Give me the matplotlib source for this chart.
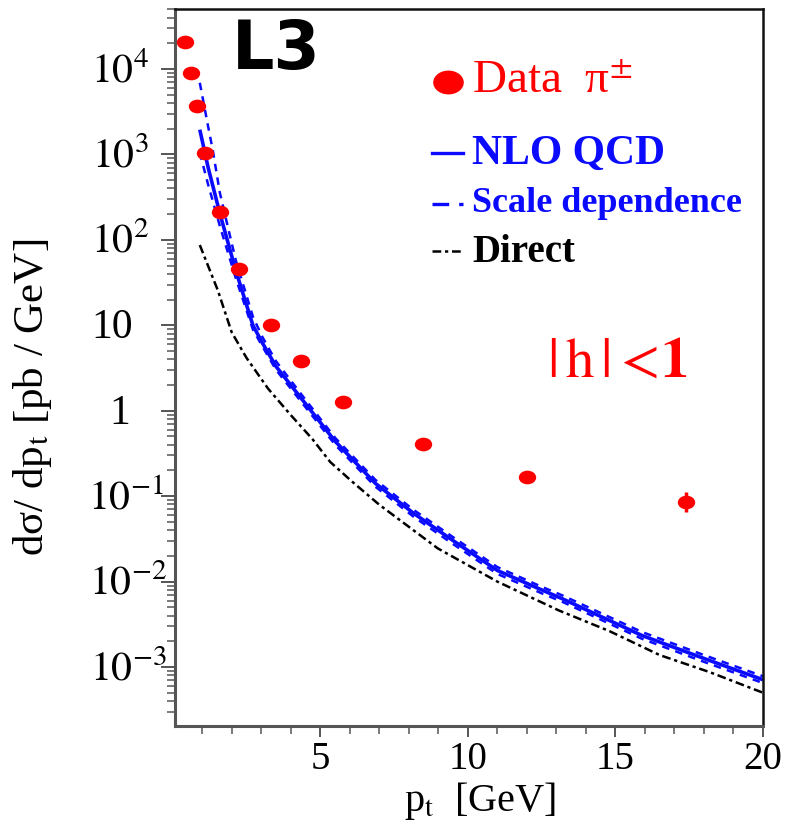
import numpy as np
import matplotlib
matplotlib.use('Agg')
import matplotlib.pyplot as plt
from matplotlib.path import Path
from matplotlib.transforms import Affine2D
from matplotlib.ticker import FixedLocator, NullFormatter, MultipleLocator

plt.rcParams['font.family'] = ['Liberation Serif', 'DejaVu Serif']
plt.rcParams['mathtext.fontset'] = 'stix'

# ---------------- data ----------------
data_pt = [0.41, 0.61, 0.82, 1.09, 1.60, 2.24, 3.33, 4.35, 5.78, 8.47, 12.0, 17.4]
data_xs = [2.07e4, 8980, 3690, 1040, 212, 45.5, 10.0, 3.8, 1.26, 0.41, 0.168, 0.0857]
data_err_lo = [0, 0, 0, 0, 0, 0, 0, 0, 0, 0.031, 0.025, 0.020]
data_err_hi = [0, 0, 0, 0, 0, 0, 0, 0, 0, 0.034, 0.029, 0.027]

nlo_pt = [0.92, 1.2, 1.6, 2.14, 2.72, 3.03, 3.5, 4.32, 5.51, 6.87, 8.16, 9.5,
          11.0, 12.5, 13.2, 15.9, 18.0, 20.0]
nlo_xs = [1950, 708, 204, 43.6, 10.0, 6.31, 3.31, 1.45, 0.437, 0.141, 0.0631,
          0.0302, 0.0135, 8.0e-3, 6.3e-3, 2.34e-3, 1.26e-3, 7.1e-4]

scale_up_pt = [0.92, 1.2, 1.36, 1.6, 1.94, 2.14, 2.72, 3.03, 3.5, 4.32, 5.51, 6.87,
               8.16, 9.5, 11.0, 12.5, 13.2, 15.9, 18.0, 20.0]
scale_up_xs = [6900, 2140, 1120, 355, 112, 57.5, 12.6, 7.41, 3.80, 1.62, 0.479,
               0.155, 0.0692, 0.0331, 0.0148, 8.7e-3, 6.9e-3, 2.57e-3, 1.38e-3, 7.8e-4]

scale_lo_pt = [0.92, 1.2, 1.6, 2.14, 2.72, 3.03, 3.5, 4.32, 5.51, 6.87, 8.16, 9.5,
               11.0, 12.5, 13.2, 15.9, 18.0, 20.0]
scale_lo_xs = [1050, 447, 145, 35.5, 8.91, 5.75, 3.02, 1.32, 0.398, 0.129, 0.0575,
               0.0275, 0.0123, 7.3e-3, 5.8e-3, 2.14e-3, 1.15e-3, 6.5e-4]

direct_pt = [0.92, 1.53, 2.0, 2.5, 3.23, 4.0, 4.73, 5.34, 6.08, 7.0, 8.98, 11.0,
             13.1, 14.8, 16.5, 18.2, 20.0]
direct_xs = [87, 25.7, 8.3, 4.17, 1.82, 0.891, 0.468, 0.251, 0.148, 0.0794, 0.0245,
             0.0100, 4.57e-3, 2.63e-3, 1.38e-3, 8.7e-4, 5.0e-4]

ytick_vals = [1e-3, 1e-2, 1e-1, 1, 10, 1e2, 1e3, 1e4]
ytick_labels = [r'$10^{-3}$', r'$10^{-2}$', r'$10^{-1}$', '1', '10',
                r'$10^{2}$', r'$10^{3}$', r'$10^{4}$']
xtick_vals = [5, 10, 15, 20]
xtick_labels = ['5', '10', '15', '20']

legend_labels = ['Data  π$^{\\pm}$', 'NLO QCD', 'Scale dependence', 'Direct']

RED = '#ff0000'
BLUE = '#0a0aff'

# ---------------- figure ----------------
W, H = 792, 824
fig = plt.figure(figsize=(W / 100, H / 100), dpi=100)
L, R, T, B = 175, 763, 9, 726
ax = fig.add_axes([L / W, 1 - B / H, (R - L) / W, (B - T) / H])
ax.set_yscale('log')
ax.set_xlim(0.08, 20)
ax.set_ylim(2.04e-4, 5.04e4)

ellipse = Path.unit_circle().transformed(Affine2D().scale(1.3, 1.0))

# curves
ax.plot(nlo_pt, nlo_xs, color=BLUE, lw=2.6, solid_capstyle='butt')
ax.plot(scale_up_pt, scale_up_xs, color=BLUE, lw=1.8, linestyle=(0, (3, 2.5)))
ax.plot(scale_lo_pt, scale_lo_xs, color=BLUE, lw=1.8, linestyle=(0, (3, 2.5)))
ax.plot(direct_pt, direct_xs, color='black', lw=1.8, linestyle=(0, (3.5, 1.5, 1.3, 1.5)))

# data
ax.errorbar(data_pt, data_xs, yerr=[data_err_lo, data_err_hi], fmt='none',
            ecolor=RED, elinewidth=2.5, capsize=0, zorder=4)
ax.plot(data_pt, data_xs, linestyle='none', marker=ellipse, ms=11.5,
        color=RED, mec=RED, zorder=5)

# spines
for s in ['left', 'bottom']:
    ax.spines[s].set_color('#555555')
    ax.spines[s].set_linewidth(2.2)
for s in ['top', 'right']:
    ax.spines[s].set_color('#111111')
    ax.spines[s].set_linewidth(1.8)

# ticks
ax.yaxis.set_major_locator(FixedLocator(ytick_vals))
minors = [m * 10.0 ** e for e in range(-4, 5) for m in range(2, 10)]
ax.yaxis.set_minor_locator(FixedLocator(minors))
ax.yaxis.set_major_formatter(NullFormatter())
ax.yaxis.set_minor_formatter(NullFormatter())
ax.tick_params(axis='y', which='major', direction='out', length=10, width=1.4,
               color='#555555', right=False)
ax.tick_params(axis='y', which='minor', direction='out', length=5.5, width=1.1,
               color='#555555', right=False)

ax.set_xticks(xtick_vals)
ax.set_xticklabels(xtick_labels, fontsize=28)
ax.xaxis.set_minor_locator(MultipleLocator(1))
ax.tick_params(axis='x', which='major', direction='out', length=8, width=1.4,
               color='#555555', pad=3, top=False)
ax.tick_params(axis='x', which='minor', direction='out', length=6, width=1.1,
               color='#555555', top=False)

# y tick labels (centred like the reference)
label_cx = [128, 128, 126, 120, 112, 120, 120, 120]
for v, lab, cx in zip(ytick_vals, ytick_labels, label_cx):
    ax.annotate(lab, xy=(0, v), xycoords=('axes fraction', 'data'),
                xytext=((cx - L) * 0.72, -13 * 0.72), textcoords='offset points',
                ha='center', va='baseline', fontsize=30, annotation_clip=False)

# axis labels
fig.text(33 / W, 1 - 397 / H, 'dσ/ dp$_{\\rm t}$ [pb / GeV]', rotation=90,
         ha='center', va='center', fontsize=31)
fig.text(480 / W, 1 - 811 / H, 'p$_{\\rm t}$  [GeV]', ha='center', va='baseline',
         fontsize=29)

# L3 label
fig.text(276 / W, 1 - 50 / H, 'L3', family='DejaVu Sans', weight='bold',
         fontsize=48, ha='center', va='center')

# legend (hand placed)
def ax_frac(px, py):
    return (px - L) / (R - L), (B - py) / (B - T)

x0, y0 = ax_frac(448, 82)
ax.plot([x0], [y0], transform=ax.transAxes, linestyle='none', marker=ellipse,
        ms=21, color=RED, clip_on=False)
fig.text(472 / W, 1 - 82 / H, legend_labels[0], color=RED, fontsize=34,
         ha='left', va='center')

xa, ya = ax_frac(432, 153)
xb, _ = ax_frac(463, 153)
ax.plot([xa, xb], [ya, ya], transform=ax.transAxes, color=BLUE, lw=2.4)
fig.text(472 / W, 1 - 154 / H, legend_labels[1], color=BLUE, fontsize=30,
         weight='bold', ha='left', va='center')

xa, ya = ax_frac(432, 204)
ax.plot([xa, xb], [ya, ya], transform=ax.transAxes, color=BLUE, lw=2.4,
        linestyle=(0, (5, 3)), solid_capstyle='butt', dash_capstyle='butt')
fig.text(472 / W, 1 - 204 / H, legend_labels[2], color=BLUE, fontsize=26,
         weight='bold', ha='left', va='center')

xa, ya = ax_frac(432, 251)
ax.plot([xa, xb], [ya, ya], transform=ax.transAxes, color='black', lw=1.8,
        linestyle=(0, (3.5, 1.5, 1.3, 1.5)))
fig.text(472 / W, 1 - 253 / H, legend_labels[3], color='black', fontsize=28,
         weight='bold', ha='left', va='center')

# rapidity cut annotation
fig.text(617 / W, 1 - 363 / H, r'$|\,\mathrm{h}\,|<\!\mathbf{1}$', color=RED,
         fontsize=41, ha='center', va='center')

fig.savefig('out.png', dpi=100)
